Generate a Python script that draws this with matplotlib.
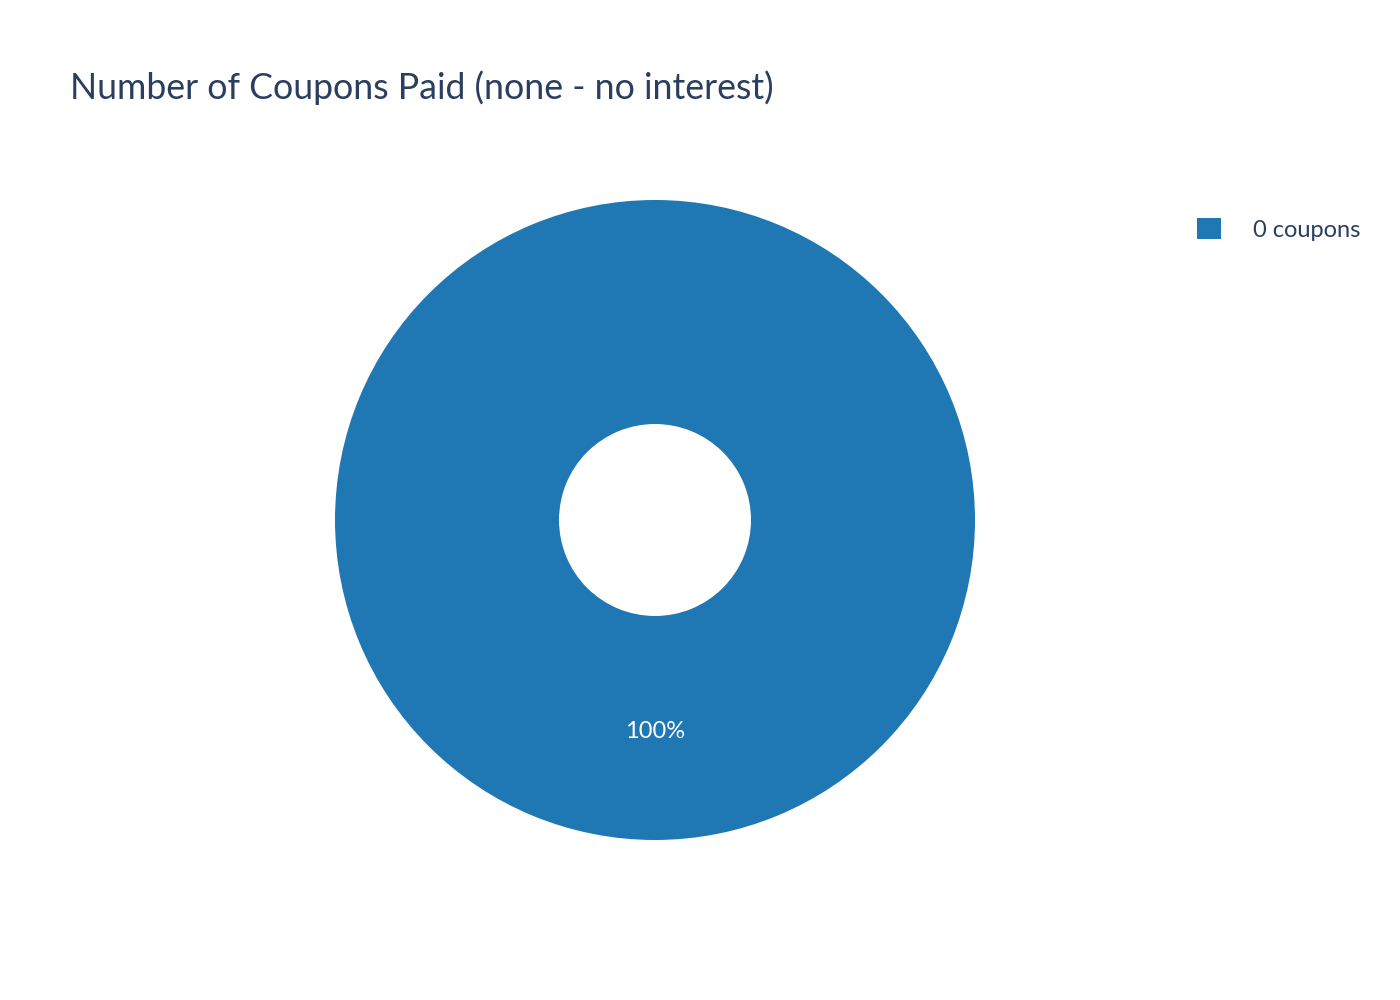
import matplotlib
matplotlib.use('Agg')
import matplotlib.pyplot as plt

plt.rcParams['font.family'] = ['Lato', 'DejaVu Sans']

labels = ['0 coupons']
values = [1]
colors = ['#1f77b4']
title = 'Number of Coupons Paid (none - no interest)'
text_col = '#2a3f5f'

fig = plt.figure(figsize=(14, 10), dpi=100)
ax = fig.add_axes([335 / 1400, 160 / 1000, 640 / 1400, 640 / 1000])

wedges, texts, autotexts = ax.pie(values, labels=None, colors=colors,
                                  startangle=90, counterclock=False,
                                  radius=1, autopct='%1.0f%%', pctdistance=0.66,
                                  wedgeprops=dict(width=0.7, edgecolor='white', linewidth=0),
                                  textprops=dict(color='white', fontsize=17))
ax.set_xlim(-1, 1)
ax.set_ylim(-1, 1)
ax.set_aspect('equal')
ax.axis('off')

fig.text(70 / 1400, 1 - 88 / 1000, title, fontsize=25.7, color=text_col,
         ha='left', va='center')

leg = fig.legend(wedges, labels, loc='upper left',
                 bbox_to_anchor=(1176 / 1400, 1 - 197 / 1000),
                 frameon=False, fontsize=17, handlelength=1.0, handleheight=1.0,
                 handletextpad=1.35, labelcolor=text_col)

fig.savefig('out.png', dpi=100, facecolor='white')
